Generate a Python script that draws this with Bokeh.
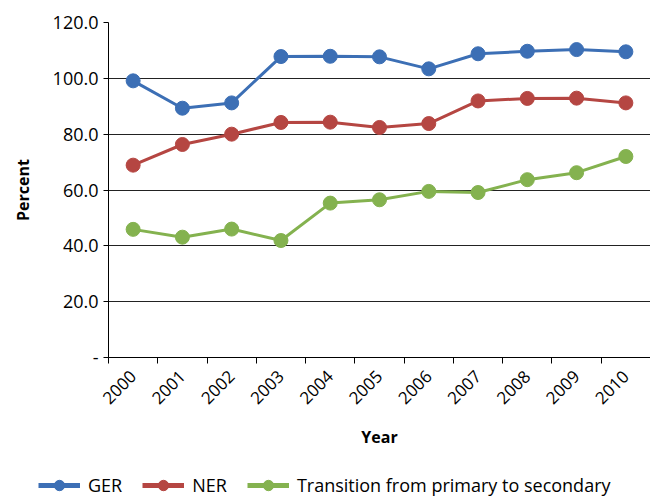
from bokeh.plotting import figure
from bokeh.layouts import column, row
from bokeh.models import (Range1d, FixedTicker, PrintfTickFormatter, Legend, LegendItem)
from bokeh.embed import file_html
from bokeh.resources import INLINE
import math

years = [2000, 2001, 2002, 2003, 2004, 2005, 2006, 2007, 2008, 2009, 2010]
ger = [99.1, 89.3, 91.2, 107.8, 107.9, 107.7, 103.4, 108.8, 109.7, 110.3, 109.5]
ner = [68.9, 76.3, 80.0, 84.2, 84.3, 82.4, 83.8, 91.9, 92.8, 92.9, 91.2]
transition = [45.9, 43.1, 46.0, 41.9, 55.3, 56.5, 59.5, 59.1, 63.7, 66.2, 72.0]
y_ticks = [0, 20, 40, 60, 80, 100, 120]
series_names = ["GER", "NER", "Transition from primary to secondary"]
colors = ["#3C6FB5", "#B54642", "#84B24F"]

FONT = "Open Sans"

p = figure(frame_width=542, frame_height=335, output_backend="svg",
           toolbar_location=None,
           x_range=Range1d(years[0] - 0.5, years[-1] + 0.5),
           y_range=Range1d(0, 120))
p.min_border_left = 108
p.min_border_top = 22
p.min_border_right = 0
p.min_border_bottom = 110
p.outline_line_color = None
p.background_fill_color = "white"

# y axis
p.yaxis.ticker = FixedTicker(ticks=y_ticks)
p.yaxis.formatter = PrintfTickFormatter(format="%.1f")
p.yaxis.major_label_overrides = {0: "-"}
p.yaxis.major_label_text_font = FONT
p.yaxis.major_label_text_font_size = "18px"
p.yaxis.major_label_text_color = "black"
p.yaxis.major_tick_in = 0
p.yaxis.major_tick_out = 5
p.yaxis.minor_tick_line_color = None
p.yaxis.axis_line_color = "black"
p.yaxis.major_tick_line_color = "black"
p.yaxis.axis_label = "Percent"
p.yaxis.axis_label_text_font = FONT
p.yaxis.axis_label_text_font_style = "bold"
p.yaxis.axis_label_text_font_size = "16px"
p.yaxis.axis_label_text_color = "black"
p.yaxis.axis_label_standoff = 16

# x axis
p.xaxis.ticker = FixedTicker(ticks=years, minor_ticks=[y - 0.5 for y in years] + [years[-1] + 0.5])
p.xaxis.major_tick_line_color = None
p.xaxis.minor_tick_in = 0
p.xaxis.minor_tick_out = 6
p.xaxis.minor_tick_line_color = "black"
p.xaxis.axis_line_color = "black"
p.xaxis.major_label_orientation = math.pi / 4
p.xaxis.major_label_standoff = 10
p.xaxis.major_label_text_font = FONT
p.xaxis.major_label_text_font_size = "17px"
p.xaxis.major_label_text_color = "black"
p.xaxis.axis_label = "Year"
p.xaxis.axis_label_text_font = FONT
p.xaxis.axis_label_text_font_style = "bold"
p.xaxis.axis_label_text_font_size = "16px"
p.xaxis.axis_label_text_color = "black"
p.xaxis.axis_label_standoff = 14

p.xgrid.grid_line_color = None
p.ygrid.ticker = FixedTicker(ticks=y_ticks)
p.ygrid.grid_line_color = "#222222"
p.ygrid.grid_line_width = 1

for vals, c in zip([ger, ner, transition], colors):
    p.line(years, vals, line_color=c, line_width=3)
    p.scatter(years, vals, size=14, fill_color=c, line_color=c)

# Legend strip (separate figure, same series drawn out of view)
leg = figure(width=650, height=31, output_backend="svg", toolbar_location=None,
             x_axis_location=None, y_axis_location=None,
             x_range=Range1d(0, 1), y_range=Range1d(0, 1))
leg.min_border_left = 0
leg.min_border_right = 0
leg.min_border_top = 0
leg.min_border_bottom = 0
leg.grid.visible = False
leg.outline_line_color = None

items = []
for name, vals, c in zip(series_names, [ger, ner, transition], colors):
    l = leg.line(years, vals, line_color=c, line_width=5)
    s = leg.scatter(years, vals, size=14, fill_color=c, line_color=c)
    items.append(LegendItem(label=name, renderers=[l, s]))

legend = Legend(items=items, orientation="horizontal", location=(38, 0),
                label_text_font=FONT, label_text_font_size="18px",
                label_text_color="black", glyph_width=42, glyph_height=26,
                label_height=16,
                spacing=20, label_standoff=8, border_line_color=None,
                background_fill_alpha=0, padding=0, margin=0)
leg.add_layout(legend, "center")

layout = column(p, row(leg), spacing=0)
open("out.html", "w").write(file_html(layout, INLINE))
